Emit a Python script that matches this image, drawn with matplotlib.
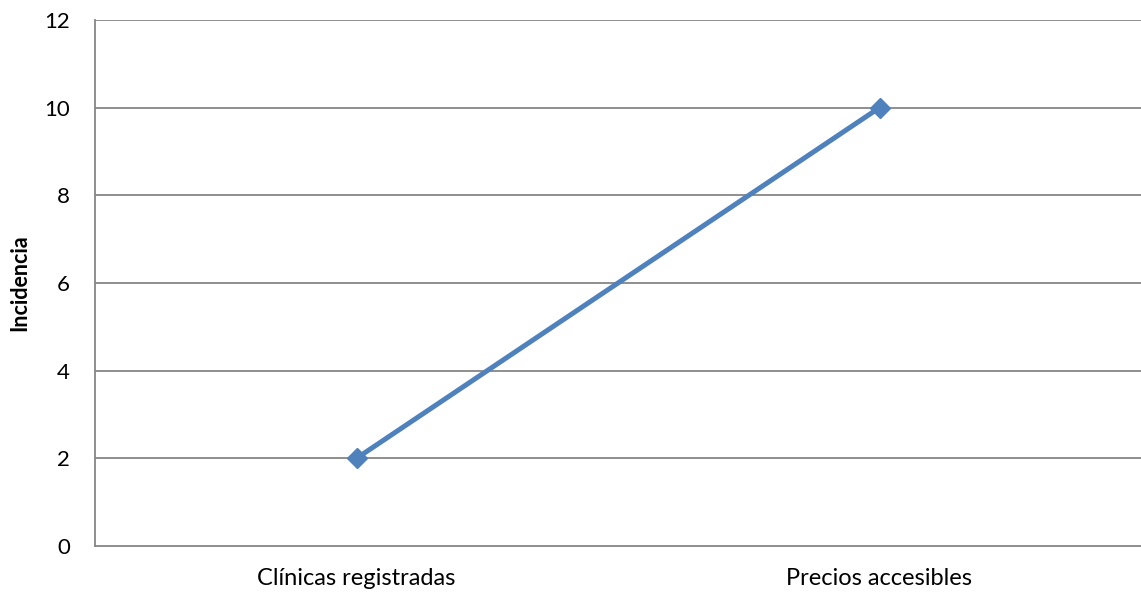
import matplotlib.pyplot as plt

categorias = ['Clínicas registradas', 'Precios accesibles']
incidencia = [2, 10]
y_ticks = [0, 2, 4, 6, 8, 10, 12]

plt.rcParams['font.family'] = ['Lato', 'DejaVu Sans']

fig = plt.figure(figsize=(11.41, 5.93), dpi=100)
ax = fig.add_axes([95 / 1141, 47 / 593, 1 - 95 / 1141, (546 - 20) / 593])

grid_color = '#868686'
for y in y_ticks[1:]:
    ax.axhline(y, color=grid_color, linewidth=1.3, zorder=1)

ax.plot(range(len(categorias)), incidencia, color='#4F81BD', linewidth=3.6,
        marker='D', markersize=10.5, zorder=3)

ax.set_xlim(-0.5, len(categorias) - 0.5)
ax.set_ylim(0, 12)
ax.set_yticks(y_ticks)
ax.set_xticks(range(len(categorias)))
ax.set_xticklabels(categorias)
ax.tick_params(axis='y', length=0, labelsize=16, pad=18)
ax.tick_params(axis='x', length=0, labelsize=17, pad=16)

for side in ['top', 'right']:
    ax.spines[side].set_visible(False)
for side in ['left', 'bottom']:
    ax.spines[side].set_color(grid_color)
    ax.spines[side].set_linewidth(1.3)

ax.set_ylabel('Incidencia', fontsize=15.5, fontweight='bold')
ax.yaxis.set_label_coords(-0.062, 0.5)

fig.savefig('out.png', dpi=100)
